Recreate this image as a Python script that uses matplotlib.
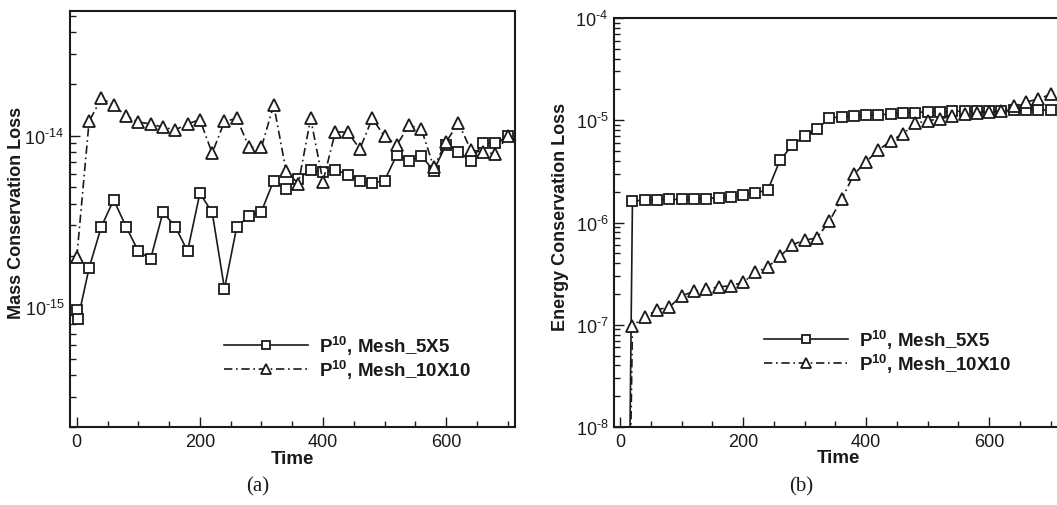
import numpy as np
import matplotlib
matplotlib.use("Agg")
import matplotlib.pyplot as plt
from matplotlib.ticker import LogLocator, MultipleLocator, NullFormatter, FuncFormatter

plt.rcParams['font.family'] = ['Liberation Sans', 'DejaVu Sans']
plt.rcParams['mathtext.fontset'] = 'custom'
plt.rcParams['mathtext.rm'] = 'Liberation Sans'
plt.rcParams['mathtext.bf'] = 'Liberation Sans:bold'

INK = '#1a1a1a'

# === Data ===
time_mass_5x5 = np.concatenate([[0, 2], np.arange(20, 701, 20)])
mass_5x5 = [9.6e-16, 8.55e-16, 1.69e-15, 2.95e-15, 4.22e-15, 2.95e-15, 2.12e-15, 1.91e-15,
            3.57e-15, 2.95e-15, 2.12e-15, 4.61e-15, 3.57e-15, 1.28e-15, 2.95e-15, 3.39e-15,
            3.61e-15, 5.47e-15, 4.87e-15, 5.6e-15, 6.34e-15, 6.12e-15, 6.34e-15, 5.93e-15,
            5.47e-15, 5.27e-15, 5.47e-15, 7.72e-15, 7.15e-15, 7.59e-15, 6.25e-15, 8.87e-15,
            8.07e-15, 7.1e-15, 9.03e-15, 9.03e-15, 9.9e-15]

time_mass_10x10 = np.arange(0, 701, 20)
mass_10x10 = [1.95e-15, 1.21e-14, 1.65e-14, 1.51e-14, 1.30e-14, 1.20e-14, 1.17e-14, 1.12e-14,
              1.08e-14, 1.17e-14, 1.24e-14, 7.9e-15, 1.21e-14, 1.26e-14, 8.55e-15, 8.55e-15,
              1.51e-14, 6.25e-15, 5.24e-15, 1.26e-14, 5.4e-15, 1.05e-14, 1.05e-14, 8.36e-15,
              1.26e-14, 9.9e-15, 8.83e-15, 1.15e-14, 1.09e-14, 6.54e-15, 9.15e-15, 1.19e-14,
              8.28e-15, 8.0e-15, 7.82e-15, 1.0e-14]

time_energy = np.arange(0, 701, 20)
energy_5x5 = [1e-17, 1.62e-6, 1.66e-6, 1.66e-6, 1.68e-6, 1.68e-6, 1.71e-6, 1.71e-6, 1.75e-6,
              1.77e-6, 1.84e-6, 1.96e-6, 2.07e-6, 4.08e-6, 5.69e-6, 7.02e-6, 8.16e-6, 1.05e-5,
              1.08e-5, 1.10e-5, 1.12e-5, 1.13e-5, 1.15e-5, 1.19e-5, 1.19e-5, 1.21e-5, 1.21e-5,
              1.22e-5, 1.23e-5, 1.23e-5, 1.23e-5, 1.23e-5, 1.25e-5, 1.25e-5, 1.26e-5, 1.26e-5]
energy_10x10 = [1e-15, 9.8e-8, 1.19e-7, 1.40e-7, 1.49e-7, 1.92e-7, 2.12e-7, 2.24e-7, 2.34e-7,
                2.41e-7, 2.60e-7, 3.26e-7, 3.67e-7, 4.67e-7, 6.08e-7, 6.71e-7, 7.08e-7, 1.03e-6,
                1.68e-6, 2.96e-6, 3.94e-6, 5.12e-6, 6.27e-6, 7.40e-6, 9.35e-6, 9.84e-6, 1.04e-5,
                1.09e-5, 1.15e-5, 1.19e-5, 1.21e-5, 1.23e-5, 1.38e-5, 1.51e-5, 1.61e-5, 1.80e-5]

labels = [r'$\mathbf{P^{10}}$, Mesh_5X5', r'$\mathbf{P^{10}}$, Mesh_10X10']

W, H = 1057, 506
fig = plt.figure(figsize=(W / 100, H / 100), dpi=100)


def px_axes(l, t, r, b):
    return fig.add_axes([l / W, 1 - b / H, (r - l) / W, (b - t) / H])


def decade_label(v, pos):
    e = int(round(np.log10(v)))
    sign = r'\text{-}' if e < 0 else ''
    return r'$\mathregular{10^{%s%d}}$' % (sign, abs(e))


def style(ax, xlim, ylim, ylabel, caption, cap_x, leg_xy):
    ax.set_yscale('log')
    ax.set_xlim(*xlim)
    ax.set_ylim(*ylim)
    ax.xaxis.set_major_locator(MultipleLocator(200))
    ax.xaxis.set_minor_locator(MultipleLocator(50))
    ax.yaxis.set_major_locator(LogLocator(base=10, numticks=20))
    ax.yaxis.set_major_formatter(FuncFormatter(decade_label))
    ax.yaxis.set_minor_locator(LogLocator(base=10, subs=np.arange(2, 10), numticks=20))
    ax.yaxis.set_minor_formatter(NullFormatter())
    ax.tick_params(which='both', direction='in', top=False, right=False,
                   colors=INK, labelsize=13, width=1.0)
    ax.tick_params(which='major', length=7, pad=4)
    ax.tick_params(which='minor', length=4)
    for s in ax.spines.values():
        s.set_linewidth(1.5)
        s.set_color(INK)
    ax.set_xlabel('Time', fontsize=13.5, fontweight='bold', color=INK)
    ax.set_ylabel(ylabel, fontsize=13, fontweight='bold', color=INK)
    ax.xaxis.set_label_coords(0.5, -0.055)
    ax.yaxis.set_label_coords(-0.1, 0.517)
    leg = ax.legend(loc='center left', bbox_to_anchor=(leg_xy[0] / W, 1 - leg_xy[1] / H),
                    bbox_transform=fig.transFigure, frameon=False, borderpad=0,
                    borderaxespad=0, handlelength=4.5, handletextpad=0.55,
                    labelspacing=0.05, markerscale=0.85,
                    prop={'size': 13.5, 'weight': 'bold'})
    for t in leg.get_texts():
        t.set_color(INK)
    fig.text(cap_x / W, 1 - 487 / H, caption, family='Liberation Serif', fontsize=15,
             ha='center', va='center', color=INK)


def draw(ax, t1, y1, t2, y2):
    ax.plot(t1, y1, '-', color=INK, lw=1.2, marker='s', ms=7, mfc='white',
            mec=INK, mew=1.3, label=labels[0])
    ax.plot(t2, y2, color=INK, lw=1.2, dashes=(5, 2.2, 1, 2.2), marker='^', ms=8.5,
            mfc='white', mec=INK, mew=1.3, label=labels[1])


# (a) mass
ax1 = px_axes(70, 12, 515, 428)
draw(ax1, time_mass_5x5, mass_5x5, time_mass_10x10, mass_10x10)
style(ax1, (-11, 712), (2.0e-16, 5.33e-14), 'Mass Conservation Loss', '(a)', 258, (224, 358))

# (b) energy
ax2 = px_axes(614, 19, 1063, 428)
draw(ax2, time_energy, energy_5x5, time_energy, energy_10x10)
style(ax2, (-10, 720), (1e-8, 1e-4), 'Energy Conservation Loss', '(b)', 801, (764, 352))

fig.savefig('out.png', dpi=100)
